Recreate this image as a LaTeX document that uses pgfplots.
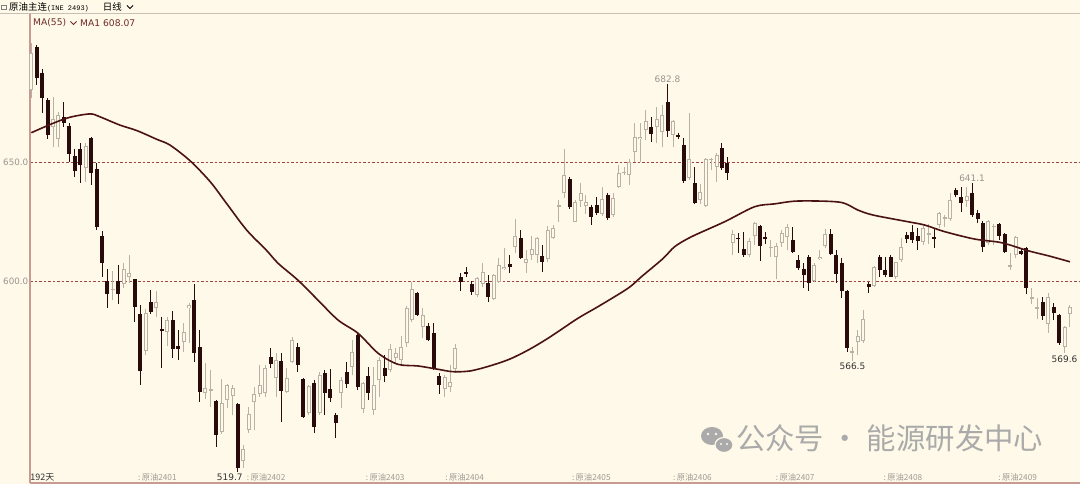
\documentclass[border=0pt]{standalone}
\usepackage{fontspec}
\setmainfont{DejaVu Sans}
\newfontfamily\cjk{Noto Sans CJK SC}
\newfontfamily\monof{Liberation Mono}
\usepackage{pgfplots}
\pgfplotsset{compat=1.18}
\usepackage{pgfplotstable}

\definecolor{bg}{HTML}{FEF9E8}
\definecolor{dn}{HTML}{2A0B0B}
\definecolor{upc}{HTML}{B9B1A4}
\definecolor{mac}{HTML}{4A1212}
\definecolor{gridc}{HTML}{A04444}
\definecolor{framec}{HTML}{C99A90}
\definecolor{labc}{HTML}{9A9490}
\definecolor{xlabc}{HTML}{A09A94}
\definecolor{darklab}{HTML}{333333}
\definecolor{matext}{HTML}{6E2B2B}
\definecolor{wmc}{HTML}{AAAAAA}
\definecolor{hdrline}{HTML}{C8C0B4}

% i open high low close
\pgfplotstableread{
i o h l c
0 680.3 699.9 676.7 695.7
4 664.8 677.5 656.4 667.9
5 659.5 671.1 656.4 669.7
10 647.3 657.8 641.7 656.7
15 596.3 604.3 592.0 596.7
17 598.7 607.4 596.9 604.9
18 601.5 610.9 599.0 603.2
21 570.7 588.1 568.9 586.7
23 588.5 595.9 584.7 591.3
25 578.7 584.7 572.7 583.6
28 574.5 582.2 570.3 578.7
29 588.5 590.6 573.8 589.8
32 552.8 565.4 550.3 555.2
33 554.2 562.6 547.2 554.6
35 536.7 558.7 535.7 548.6
36 550.0 556.8 546.5 556.3
37 551.7 556.3 543.7 554.9
39 524.5 531.0 521.5 529.5
40 537.4 547.2 536.3 544.1
41 549.3 555.6 537.4 552.4
42 552.5 564.7 551.4 556.3
43 553.1 564.7 551.4 563.3
45 559.1 569.6 551.4 566.8
47 553.5 563.3 552.8 559.1
48 566.1 576.6 565.4 575.2
51 544.4 556.3 543.7 555.9
53 544.4 561.9 543.7 560.5
57 553.1 559.8 546.5 558.4
59 564.0 575.2 560.5 570.3
61 546.1 557.7 544.7 557.0
63 545.8 563.7 543.7 556.3
64 558.4 568.2 551.4 566.8
66 562.6 573.4 561.9 571.3
67 567.5 571.7 565.7 569.9
68 566.8 576.9 564.7 572.4
69 573.8 589.5 572.4 588.5
70 583.6 599.7 582.9 596.5
72 580.5 588.5 575.9 585.7
76 554.5 560.5 551.4 559.8
77 555.5 564.7 553.4 557.5
78 563.0 573.5 561.5 572.0
82 594.1 601.5 593.4 601.1
83 598.7 607.7 597.6 603.9
85 592.3 602.9 592.0 602.5
86 599.7 609.5 599.0 606.7
87 604.9 613.7 604.6 606.0
89 614.4 625.9 611.6 618.9
91 607.7 613.0 603.2 609.1
92 610.9 618.9 608.8 613.3
93 610.9 618.3 607.7 617.9
95 609.1 623.1 608.1 621.4
96 618.2 623.5 617.6 622.1
97 631.5 634.0 624.9 631.8
98 636.8 655.3 634.7 644.5
100 624.9 634.0 624.6 633.3
101 633.8 641.0 631.2 637.1
102 631.5 636.1 628.2 633.1
105 628.2 639.6 627.3 634.3
107 627.7 637.1 627.0 634.7
108 639.6 648.7 638.9 645.2
109 645.5 648.0 644.5 645.8
110 644.5 651.1 640.3 650.1
111 654.3 666.5 650.1 660.4
112 659.5 666.2 650.1 660.6
113 663.4 671.8 659.2 667.2
115 664.6 673.2 657.8 667.9
116 662.7 674.0 656.2 669.7
118 661.3 667.6 656.2 667.2
121 643.1 670.4 642.4 651.4
123 634.0 640.8 632.4 637.5
124 631.5 651.5 631.2 651.1
125 651.0 651.5 646.6 651.3
126 647.8 653.6 641.7 652.9
129 615.8 621.4 610.9 619.7
132 610.9 617.9 610.2 616.9
133 618.9 624.9 615.1 624.2
136 614.0 617.2 610.2 614.3
137 609.9 615.8 600.7 614.7
138 615.8 621.4 614.4 620.3
139 618.6 623.9 613.0 622.8
144 600.1 607.7 599.7 606.7
145 609.1 613.0 608.8 610.2
146 614.7 621.7 613.7 619.7
151 570.0 572.4 566.5 570.5
152 574.5 579.4 568.9 576.9
153 574.9 587.8 574.1 583.9
155 597.9 606.3 597.3 605.7
159 601.5 608.1 600.7 607.8
160 608.8 617.9 608.1 614.1
164 616.5 623.1 615.1 622.1
165 619.3 623.9 615.5 620.0
167 623.5 629.1 622.1 628.4
168 626.5 627.7 622.8 626.8
169 625.9 636.8 625.4 634.0
172 633.8 639.6 631.2 635.7
176 616.1 625.6 615.1 625.4
177 622.8 624.0 615.1 623.1
180 606.2 611.6 604.6 606.5
181 610.9 618.9 609.5 618.6
184 592.6 596.9 590.3 593.1
185 588.5 592.7 583.9 589.2
187 581.9 594.8 578.3 593.1
190 572.1 581.1 569.6 580.8
191 586.1 589.9 580.8 589.2
}\uptab

\pgfplotstableread{
i o h l c
1 698.2 699.2 682.4 685.2
2 687.5 688.9 670.4 676.7
3 676.0 676.7 659.5 661.3
6 668.8 675.4 664.8 666.5
7 665.3 666.2 650.1 653.4
8 652.5 655.3 643.8 646.2
9 655.5 657.8 641.0 648.7
11 660.2 660.6 640.3 645.2
12 646.9 649.7 621.4 622.5
13 618.9 621.0 601.8 607.4
14 600.0 604.9 588.5 594.5
16 600.0 606.7 590.3 594.5
19 600.7 600.9 582.9 588.9
20 586.1 589.9 556.3 562.3
22 591.3 596.2 586.1 587.1
24 579.7 585.0 563.3 579.0
26 583.6 587.5 567.5 571.3
27 572.7 579.4 566.8 571.3
30 592.0 598.7 566.1 569.9
31 572.1 579.4 549.3 553.5
34 549.7 550.2 530.1 535.3
38 548.3 548.9 519.7 521.3
44 568.2 571.7 563.3 565.1
46 566.5 569.6 540.9 553.9
49 572.1 573.8 561.9 564.7
50 558.8 559.1 542.3 542.7
52 557.0 558.4 536.0 538.8
54 561.2 562.6 543.7 552.8
55 554.5 562.9 549.3 550.7
56 543.7 544.4 533.9 540.2
58 561.6 566.1 554.9 556.7
60 577.3 578.7 554.2 555.6
62 560.1 564.0 550.0 552.8
65 563.3 568.9 557.7 560.1
71 594.8 595.5 585.3 585.7
73 581.1 582.5 574.9 575.2
74 578.3 582.2 562.6 563.3
75 560.1 561.5 552.5 556.3
79 601.5 603.2 595.9 599.7
80 603.6 606.0 601.8 603.0
81 598.6 600.1 594.1 595.5
84 599.0 602.5 591.3 593.1
88 607.1 610.9 603.2 605.7
90 617.9 621.4 609.1 609.5
94 610.5 615.1 603.9 608.1
99 642.7 643.8 630.1 631.2
103 631.0 631.9 623.5 627.0
104 631.9 635.2 627.7 628.7
106 636.1 637.1 625.6 626.6
114 664.8 668.8 658.5 661.8
117 675.4 682.8 660.6 663.2
119 661.2 662.0 659.5 660.6
120 657.1 659.9 641.3 642.2
122 641.3 648.0 632.4 632.9
127 655.7 657.8 646.6 647.3
128 649.4 652.2 642.4 645.5
130 618.1 620.0 611.9 617.9
131 613.3 620.7 610.2 610.9
134 623.2 623.5 608.5 614.7
135 618.6 620.7 615.5 617.5
140 617.2 622.5 611.6 612.3
141 608.8 610.9 604.6 605.3
142 604.9 607.4 596.9 602.5
143 609.9 610.9 595.9 599.0
147 619.7 621.7 610.9 611.3
148 610.9 613.0 599.0 602.9
149 607.7 609.5 592.7 595.9
150 595.8 596.2 570.3 571.7
154 598.7 599.7 594.8 597.6
156 610.2 610.9 601.8 604.6
157 604.6 610.2 601.8 602.5
158 610.2 610.9 601.5 601.8
161 619.3 620.7 615.8 617.6
162 620.7 623.5 616.1 617.2
163 619.0 622.1 613.0 616.9
166 618.6 622.1 613.7 617.9
170 638.2 638.9 635.4 636.1
171 635.2 639.6 629.1 632.9
173 637.1 641.1 627.0 627.7
174 628.4 629.8 624.2 625.9
175 624.5 625.4 612.3 614.4
178 623.9 624.5 617.2 618.9
179 619.7 620.3 611.6 612.3
182 612.7 613.7 610.9 611.3
183 613.7 614.1 594.5 596.9
186 591.3 593.4 583.6 585.3
188 589.2 590.6 583.6 586.7
189 585.7 586.1 573.1 573.8
}\dntab

% MA(55)
\pgfplotstableread{
i p
0 662.3
4.05 666.3
7.12 668.8
10.8 670.2
12.6 669.0
16.3 665.5
19.4 663.2
23.1 659.5
25.5 657.1
29.2 650.5
32.9 641.7
35.9 632.6
39.6 621.4
43.2 613.0
45.4 607.4
49.0 600.4
52.7 592.0
56.4 583.6
60.1 578.0
63.8 569.6
67.4 565.0
71.1 564.3
74.8 562.9
77.5 561.9
80.7 562.2
84.3 564.3
88.0 567.2
91.7 571.4
95.4 576.5
100.5 584.3
104.2 589.2
109.7 596.9
112.2 601.8
116.2 609.5
118.3 614.4
121.4 618.6
127.5 624.9
133.0 631.2
136.7 632.4
141.0 633.6
148.7 633.1
152.0 629.8
154.8 627.7
161.2 624.9
164.3 623.5
168.0 620.7
173.5 617.6
178.4 616.1
183.3 612.7
187.0 610.6
191 608.07
}\matab

\begin{document}
\begin{tikzpicture}[x=1bp,y=1bp]
\fill[bg] (0,0) rectangle (1080,484);
% header
\draw[hdrline, line width=1bp] (0,470) -- (1080,470);
\draw[gray, line width=0.6bp] (1.5,475) rectangle (6.5,479);
\node[anchor=west, inner sep=0, text=black] at (9,477) {\cjk\fontsize{9.5}{9.5}\selectfont 原油主连{\monof\fontsize{7}{7}\selectfont(INE 2493)}\hspace{14bp}日线};
\draw[black, line width=0.8bp] (127,478.5) -- (130,475.5) -- (133,478.5);
\node[anchor=west, inner sep=0, text=matext] at (33,461) {\fontsize{9.2}{9.2}\selectfont MA(55)};
\draw[matext, line width=0.8bp] (70.5,462.5) -- (73.5,459.5) -- (76.5,462.5);
\node[anchor=west, inner sep=0, text=matext] at (80,461) {\fontsize{9.2}{9.2}\selectfont MA1 608.07};

\begin{axis}[
  anchor=south west, xshift=30bp, yshift=1bp, scale only axis,
  width=1050bp, height=469bp,
  xmin=-0.24, xmax=192.85, ymin=515.13, ymax=712.18,
  clip=false,
  axis lines*=left,
  axis line style={draw=framec, line width=1.2bp},
  xtick=\empty, ytick={600,650},
  major tick length=0pt,
  yticklabel={\pgfmathprintnumber[fixed,fixed zerofill,precision=1,assume math mode=true]{\tick}},
  yticklabel style={font=\fontsize{8.8}{8.8}\selectfont, text=labc, inner sep=1.5bp},
  ymajorgrids,
  grid style={draw=gridc, line width=0.8bp, dash pattern=on 2.5bp off 2bp},
]
% up candles: wicks, outline, hollow inside
\addplot[draw=none, mark=none, forget plot,
  error bars/.cd, y dir=both, y explicit, error mark=none,
  error bar style={draw=upc, line width=1bp}]
  table[x=i, y expr={(\thisrow{h}+\thisrow{l})/2}, y error expr={(\thisrow{h}-\thisrow{l})/2}] {\uptab};
\addplot[draw=none, mark=none, forget plot,
  error bars/.cd, y dir=both, y explicit, error mark=none,
  error bar style={draw=upc, line width=4bp}]
  table[x=i, y expr={(\thisrow{o}+\thisrow{c})/2}, y error expr={max(abs(\thisrow{c}-\thisrow{o})/2,0.25)}] {\uptab};
\addplot[draw=none, mark=none, forget plot,
  error bars/.cd, y dir=both, y explicit, error mark=none,
  error bar style={draw=bg, line width=2bp}]
  table[x=i, y expr={(\thisrow{o}+\thisrow{c})/2}, y error expr={max((\thisrow{c}-\thisrow{o})/2-0.42,0)}] {\uptab};
% down candles
\addplot[draw=none, mark=none, forget plot,
  error bars/.cd, y dir=both, y explicit, error mark=none,
  error bar style={draw=dn, line width=1bp}]
  table[x=i, y expr={(\thisrow{h}+\thisrow{l})/2}, y error expr={(\thisrow{h}-\thisrow{l})/2}] {\dntab};
\addplot[draw=none, mark=none, forget plot,
  error bars/.cd, y dir=both, y explicit, error mark=none,
  error bar style={draw=dn, line width=4bp}]
  table[x=i, y expr={(\thisrow{o}+\thisrow{c})/2}, y error expr={max(abs(\thisrow{c}-\thisrow{o})/2,0.25)}] {\dntab};
% MA(55)
\addplot[mac, line width=1.6bp, smooth, tension=0.5, mark=none] table[x=i, y=p] {\matab};

% extreme labels
\node[anchor=south, inner sep=1.5bp, text=labc, font=\fontsize{9}{9}\selectfont] at (axis cs:117,682.8) {682.8};
\node[anchor=south, inner sep=1.5bp, text=labc, font=\fontsize{9}{9}\selectfont] at (axis cs:173,641.1) {641.1};
\node[anchor=north, inner sep=2bp, text=darklab, font=\fontsize{9}{9}\selectfont] at (axis cs:151,566.5) {566.5};
\node[anchor=north, inner sep=2bp, text=darklab, font=\fontsize{9}{9}\selectfont] at (axis cs:190,569.6) {569.6};
\node[anchor=base east, inner sep=0, text=darklab, font=\fontsize{9}{9}\selectfont, yshift=2.5bp] at (axis cs:38.9,515.13) {519.7};

% contract labels
\foreach \xx/\lab in {19.6/2401,39.6/2402,61.5/2403,76.1/2404,99.4/2405,118.0/2406,136.9/2407,156.7/2408,177.8/2409}{
  \edef\temp{\noexpand\node[anchor=base west, inner sep=0, text=xlabc, font=\noexpand\cjk\noexpand\fontsize{8.3}{8.3}\noexpand\selectfont, yshift=2.5bp] at (axis cs:\xx,515.13) {:\noexpand\,原油\lab};}
  \temp
}
\node[anchor=base west, inner sep=0, text=darklab, font=\cjk\fontsize{9}{9}\selectfont, yshift=2.5bp] at (axis cs:-0.2,515.13) {192天};
\end{axis}

% watermark
\fill[wmc] (712,48) ellipse [x radius=11, y radius=9];
\fill[wmc, draw=bg, line width=1.2bp] (724,39) ellipse [x radius=9, y radius=7.5];
\fill[bg] (708,50) circle (1.3) (716,50) circle (1.3) (721,40) circle (1.1) (727,40) circle (1.1);
\node[anchor=west, inner sep=0, text=wmc, font=\cjk\fontsize{29.5}{29.5}\selectfont] at (736,46) {公众号 · 能源研发中心};
\pgfresetboundingbox
\useasboundingbox (0,0) rectangle (1080,484);
\end{tikzpicture}
\end{document}
